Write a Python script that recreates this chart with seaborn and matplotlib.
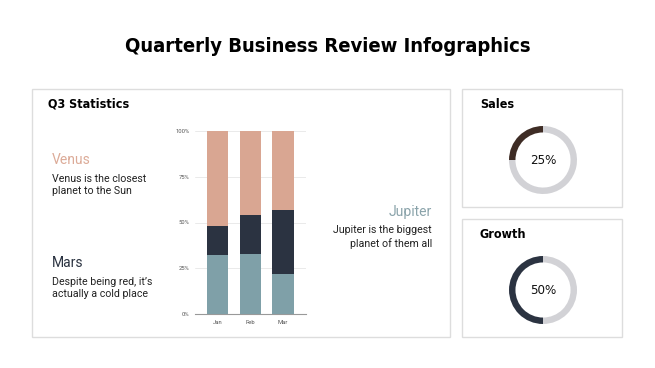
import pandas as pd
import seaborn as sns
import matplotlib.pyplot as plt
from matplotlib import font_manager
from matplotlib.patches import Rectangle

# data
months = ['Jan', 'Feb', 'Mar']
mars = [32, 33, 22]       # bottom, teal
jupiter = [16, 21, 35]    # middle, dark
venus = [52, 46, 43]      # top, salmon
sales_pct = 25
growth_pct = 50
yticks = [0, 25, 50, 75, 100]
ylabels = ['0%', '25%', '50%', '75%', '100%']

col_venus = '#d9a692'
col_jup = '#2b3341'
col_mars = '#7fa0a8'
col_sales = '#3e2c25'
col_ring = '#d2d2d6'
border = '#dddddd'

W, H = 655, 368
sns.set_theme(style='white')
plt.rcParams['font.family'] = ['Roboto', 'DejaVu Sans']

# headings: condensed bold if we have one, else Roboto a bit smaller
cond = font_manager.findfont(font_manager.FontProperties(family='DejaVu Sans', stretch='condensed',
                                                         weight='bold'))
if 'Condensed' in cond:
    head = dict(family=['DejaVu Sans'], fontstretch='condensed')
    tsize, hsize = 14.5, 9.0
else:
    head = dict(family=['Roboto', 'DejaVu Sans'])
    tsize, hsize = 15.5, 9.8

fig = plt.figure(figsize=(W / 100, H / 100), dpi=100)
fig.patch.set_facecolor('white')


def px(x, y):
    return x / W, 1 - y / H


def box(x0, y0, x1, y1):
    fig.patches.append(Rectangle((x0 / W, 1 - y1 / H), (x1 - x0) / W, (y1 - y0) / H,
                                 transform=fig.transFigure, fill=False,
                                 edgecolor=border, linewidth=1.0))


box(32, 89, 450, 337)
box(462, 89, 622, 207)
box(462, 219, 622, 337)

fig.text(*px(327.5, 47), 'Quarterly Business Review Infographics', ha='center', va='center',
         fontsize=tsize, fontweight='bold', color='black', **head)
fig.text(*px(48, 104), 'Q3 Statistics', ha='left', va='center',
         fontsize=hsize, fontweight='bold', color='black', **head)
fig.text(*px(480, 104), 'Sales', ha='left', va='center',
         fontsize=hsize, fontweight='bold', color='black', **head)
fig.text(*px(480, 235), 'Growth', ha='left', va='center',
         fontsize=hsize, fontweight='bold', color='black', **head)

# side texts
fig.text(*px(52, 160), 'Venus', ha='left', va='center', fontsize=10, color='#dcab98')
fig.text(*px(52, 185), 'Venus is the closest\nplanet to the Sun', ha='left', va='center',
         fontsize=7.7, color='#222222', linespacing=1.25)
fig.text(*px(52, 263), 'Mars', ha='left', va='center', fontsize=10, color=col_jup)
fig.text(*px(52, 288), 'Despite being red, it\u2019s\nactually a cold place', ha='left', va='center',
         fontsize=7.7, color='#222222', linespacing=1.25)
fig.text(*px(432, 212), 'Jupiter', ha='right', va='center', fontsize=10, color='#8aa3aa')
fig.text(*px(432, 237), 'Jupiter is the biggest\nplanet of them all', ha='right', va='center',
         fontsize=7.7, color='#222222', linespacing=1.25)

# stacked bars: draw cumulative totals from the top layer down
df = pd.DataFrame({'month': months, 'mars': mars, 'jupiter': jupiter, 'venus': venus})
df['mid'] = df['mars'] + df['jupiter']
df['top'] = df['mid'] + df['venus']

ax = fig.add_axes([195 / W, 1 - 314 / H, 110.5 / W, 183 / H])
for col, c in [('top', col_venus), ('mid', col_jup), ('mars', col_mars)]:
    sns.barplot(data=df, x='month', y=col, color=c, width=0.65, saturation=1, ax=ax,
                zorder=3, linewidth=0, edgecolor='none')
ax.set_xlim(-0.68, 2.68)
ax.set_ylim(0, 100)
ax.set_yticks(yticks)
ax.set_yticklabels(ylabels)
ax.set_xlabel('')
ax.set_ylabel('')
ax.tick_params(axis='both', length=0, labelsize=4.2, colors='#555555', pad=4)
ax.yaxis.grid(True, color='#e6e6e6', linewidth=0.6, zorder=0)
for s in ['top', 'right', 'left']:
    ax.spines[s].set_visible(False)
ax.spines['bottom'].set_color('#999999')
ax.spines['bottom'].set_linewidth(0.8)
ax.set_facecolor('none')


def donut(cx, cy, pct, col):
    r = 34
    a = fig.add_axes([(cx - r) / W, 1 - (cy + r) / H, 2 * r / W, 2 * r / H])
    a.pie([pct, 100 - pct], colors=[col, col_ring], startangle=90, counterclock=True,
          radius=1, wedgeprops=dict(width=0.19, linewidth=0))
    a.set_xlim(-1, 1)
    a.set_ylim(-1, 1)
    a.set_aspect('equal')
    a.axis('off')
    a.text(0, 0, f'{pct}%', ha='center', va='center', fontsize=9.5, color='#111111',
           family=['DejaVu Sans'], fontstretch='condensed')


donut(543, 160, sales_pct, col_sales)
donut(543, 290, growth_pct, col_jup)

fig.savefig('out.png', dpi=100)
